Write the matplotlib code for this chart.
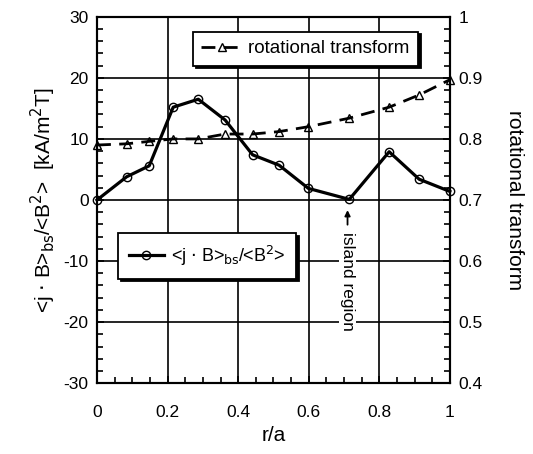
import matplotlib
matplotlib.use("Agg")
import matplotlib.pyplot as plt
from matplotlib.ticker import MultipleLocator

plt.rcParams['font.family'] = ['Liberation Sans', 'DejaVu Sans']

r_a = [0.0, 0.084, 0.148, 0.216, 0.287, 0.363, 0.441, 0.516, 0.599, 0.715, 0.828, 0.913, 1.0]
jb = [0.0, 3.8, 5.6, 15.2, 16.5, 13.1, 7.4, 5.7, 1.9, 0.1, 7.9, 3.4, 1.4]
iota = [0.790, 0.792, 0.796, 0.800, 0.800, 0.808, 0.808, 0.812, 0.820, 0.834, 0.852, 0.872, 0.897]

xticks = [0, 0.2, 0.4, 0.6, 0.8, 1]
xticklabels = ['0', '0.2', '0.4', '0.6', '0.8', '1']
yticks = [-30, -20, -10, 0, 10, 20, 30]
y2ticks = [0.4, 0.5, 0.6, 0.7, 0.8, 0.9, 1.0]
y2ticklabels = ['0.4', '0.5', '0.6', '0.7', '0.8', '0.9', '1']

fig = plt.figure(figsize=(5.33, 4.54), dpi=100)
ax = fig.add_axes([0.182, 0.156, 0.662, 0.807])
ax2 = ax.twinx()

ax.set_xlim(0, 1)
ax.set_ylim(-30, 30)
ax2.set_ylim(0.4, 1.0)

ax.set_xticks(xticks)
ax.set_xticklabels(xticklabels)
ax.set_yticks(yticks)
ax.set_yticklabels([str(v) for v in yticks])
ax2.set_yticks(y2ticks)
ax2.set_yticklabels(y2ticklabels)
ax.xaxis.set_minor_locator(MultipleLocator(0.05))
ax.yaxis.set_minor_locator(MultipleLocator(2))
ax2.yaxis.set_minor_locator(MultipleLocator(0.02))

ax.grid(True, which='major', color='black', linewidth=1.2)
ax.set_axisbelow(True)

for a in (ax, ax2):
    a.tick_params(which='both', direction='in', labelsize=12.5, width=1.2)
    a.tick_params(which='major', length=5)
    a.tick_params(which='minor', length=4)
    for s in a.spines.values():
        s.set_linewidth(1.5)
ax.tick_params(axis='x', pad=16)
ax.tick_params(axis='y', pad=6)
ax2.tick_params(axis='y', pad=6)

l1, = ax.plot(r_a, jb, '-', color='black', linewidth=2.3, marker='o', markersize=6,
              markerfacecolor='none', markeredgecolor='black', markeredgewidth=1.0,
              clip_on=False, zorder=3)
l2, = ax2.plot(r_a, iota, '--', color='black', linewidth=2.0, dashes=(5, 3), marker='^', markersize=6,
               markerfacecolor='none', markeredgecolor='black', markeredgewidth=1.0,
               clip_on=False, zorder=3)

ax.set_xlabel('r/a', fontsize=15, labelpad=4)
ax.set_ylabel(r'<j $\cdot$ B>$_{\rm bs}$/<B$^2$>  [kA/m$^2$T]', fontsize=15, labelpad=4)
ax2.set_ylabel('rotational transform', fontsize=15, rotation=270, labelpad=30)

leg2 = ax2.legend([l2], ['rotational transform'], loc='upper left', bbox_to_anchor=(0.245, 0.985),
                  fontsize=13.5, frameon=True, fancybox=False, shadow={'color': 'black', 'alpha': 1},
                  handlelength=2.2, handletextpad=0.3, borderpad=0.45, edgecolor='black')
leg2.get_frame().set_linewidth(1.3)
leg2.get_frame().set_facecolor('white')
ax2.add_artist(leg2)
leg1 = ax2.legend([l1], [r'<j $\cdot$ B>$_{\rm bs}$/<B$^2$>'], loc='upper left', bbox_to_anchor=(0.035, 0.435),
                  fontsize=13, frameon=True, fancybox=False, shadow={'color': 'black', 'alpha': 1},
                  handlelength=1.9, handletextpad=0.4, borderpad=0.6, edgecolor='black')
leg1.get_frame().set_linewidth(1.3)
leg1.get_frame().set_facecolor('white')

ax.annotate('', xy=(0.71, -1.2), xytext=(0.71, -4.5),
            arrowprops=dict(arrowstyle='-|>', color='black', lw=1.3, mutation_scale=8))
ax.text(0.71, -5.2, 'island region', rotation=270, fontsize=12.5, ha='center', va='top',
        bbox=dict(facecolor='white', edgecolor='none', pad=0.5))

fig.savefig('out.png', dpi=100)
